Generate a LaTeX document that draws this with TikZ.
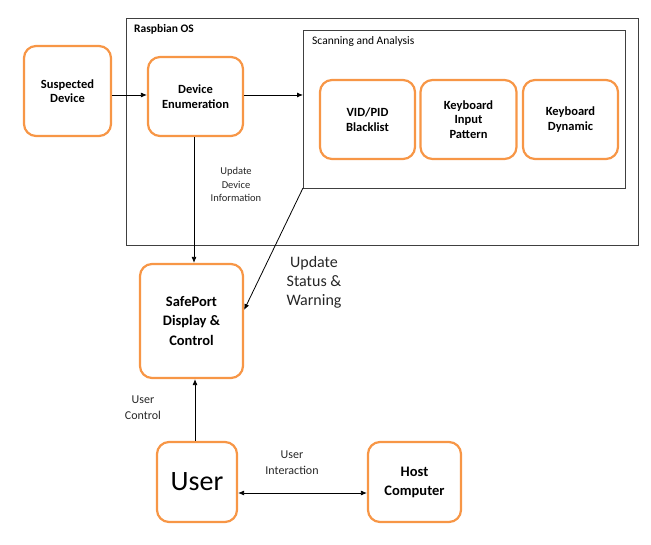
\documentclass[tikz,border=0pt]{standalone}
\usepackage{fontspec}
\setmainfont{Carlito}
\usetikzlibrary{arrows.meta}
\definecolor{orng}{HTML}{F79646}
\definecolor{frm}{HTML}{404040}
\begin{document}
\begin{tikzpicture}[x=1pt,y=-1pt,
  obox/.style={draw=orng,line width=2.2pt,rounded corners=12pt,fill=white,
    inner sep=0pt,align=center,font=\bfseries\fontsize{12.5}{14.5}\selectfont},
  frame/.style={draw=frm,line width=0.9pt},
  arr/.style={-{Latex[length=6pt,width=5pt]},line width=0.8pt},
  lbl/.style={align=center,font=\fontsize{10.5}{13.5}\selectfont,text=black!85}]
\useasboundingbox (0,0) rectangle (651,545);
% frames
\draw[frame] (126,18) rectangle (638,245);
\node[anchor=north west,inner sep=0pt,font=\bfseries\fontsize{11.5}{13}\selectfont] (ros) at (134,24) {Raspbian OS};
\draw[frame] (303,30) rectangle (625,188);
\coordinate (scanW) at (303,95);
\coordinate (scanSW) at (303,188);
\node[anchor=north west,inner sep=0pt,font=\fontsize{11.5}{13}\selectfont] (sal) at (312,36) {Scanning and Analysis};
% boxes
\node[obox,minimum width=87pt,minimum height=90pt] (sus) at (67.5,91) {Suspected\\Device};
\node[obox,minimum width=95pt,minimum height=79pt] (enum) at (195.5,96.5) {Device\\Enumeration};
\node[obox,minimum width=95pt,minimum height=79pt] (vid) at (367.5,119.5) {VID/PID\\Blacklist};
\node[obox,minimum width=96pt,minimum height=79pt] (kip) at (468.5,119.5) {Keyboard\\Input\\Pattern};
\node[obox,minimum width=95pt,minimum height=79pt] (kd) at (570.5,119.5) {Keyboard\\Dynamic};
\node[obox,minimum width=103pt,minimum height=114pt,font=\bfseries\fontsize{14.5}{19.5}\selectfont] (safe) at (191.5,321) {SafePort\\Display \&\\Control};
\node[obox,minimum width=80pt,minimum height=80pt,font=\fontsize{28}{30}\selectfont] (user) at (197,482) {User};
\node[obox,minimum width=93pt,minimum height=80pt,font=\bfseries\fontsize{14.5}{19}\selectfont] (host) at (414.5,482) {Host\\Computer};
% connectors
\draw[arr] (sus.east |- 0,95) -- (enum.west |- 0,95);
\draw[arr] (enum.east |- 0,95) -- (scanW);
\draw[arr] (enum.south -| 194,0) -- (safe.north -| 194,0);
\draw[arr] (scanSW) -- (safe.east |- 0,310);
\draw[arr] (user.north -| 195,0) -- (safe.south -| 195,0);
\draw[{Latex[length=6pt,width=5pt]}-{Latex[length=6pt,width=5pt]},line width=0.8pt] (user.east |- 0,493) -- (host.west |- 0,493);
% labels
\node[lbl] (l1) at (236,184.5) {Update\\Device\\Information};
\node[lbl,font=\fontsize{16}{19}\selectfont] (l2) at (314,282.5) {Update\\Status \&\\Warning};
\node[lbl,font=\fontsize{12}{16}\selectfont] (l3) at (143,408) {User\\Control};
\node[lbl,font=\fontsize{12}{16}\selectfont] (l4) at (292,463) {User\\Interaction};
\end{tikzpicture}
\end{document}
